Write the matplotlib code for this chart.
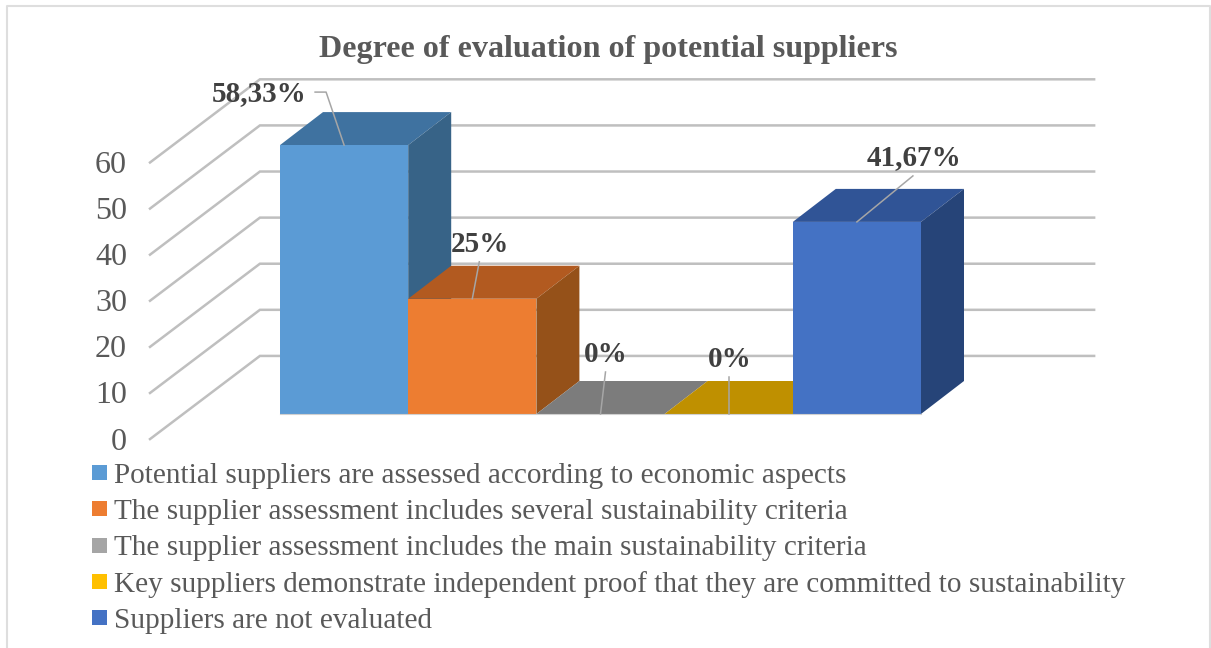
import matplotlib
matplotlib.use('Agg')
import matplotlib.pyplot as plt
from matplotlib.lines import Line2D
from matplotlib.patches import Polygon

# Chart data
title = 'Degree of evaluation of potential suppliers'
categories = ['Potential suppliers are assessed according to economic aspects',
              'The supplier assessment includes several sustainability criteria',
              'The supplier assessment includes the main sustainability criteria',
              'Key suppliers demonstrate independent proof that they are committed to sustainability',
              'Suppliers are not evaluated']
values = [58.33, 25, 0, 0, 41.67]
value_labels = ['58,33%', '25%', '0%', '0%', '41,67%']
y_ticks = [0, 10, 20, 30, 40, 50, 60]

# Colours of each bar
front_colors = ['#5B9BD5', '#ED7D31', '#A5A5A5', '#FFC000', '#4472C4']
top_colors = ['#3F72A0', '#B25A20', '#7C7C7C', '#BF9000', '#305496']
side_colors = ['#376387', '#955119', '#636363', '#997300', '#264478']

# Pixel layout of the oblique projection
W, H = 1211, 648
BAR_W = 128.2
UNIT = 4.61
X0, Y0 = 280.0, 414.0
DEPTH_X, DEPTH_Y = 43.0 / BAR_W, 33.0 / UNIT
WALL_FRONT, WALL_BACK = -0.76, 1.76
FLOOR_LEFT, FLOOR_LEFT_BACK, FLOOR_RIGHT = -0.759, -0.747, 5.76

# Label centre and leader start, in pixels from the bar's top centre
label_offsets = [(-85, -52), (8, -54), (5, -60), (1, -55), (57, -64)]
leader_offsets = [[(-29, -53), (-18, -53), (0, 0)],
                  [(7, -37), (0, 0)],
                  [(5, -42), (0, 0)],
                  [(0, -37), (0, 0)],
                  [(56, -46), (0, 0)]]

plt.rcParams['font.family'] = ['Liberation Serif', 'DejaVu Serif']

fig = plt.figure(figsize=(W / 100, H / 100), dpi=100, facecolor='white')
ax = fig.add_axes([0, 0, 1, 1])
ax.set_xlim(-X0 / BAR_W, (W - X0) / BAR_W)
ax.set_ylim(-(H - Y0) / UNIT, Y0 / UNIT)
ax.axis('off')


def project(cat, val, depth):
    return cat + depth * DEPTH_X, val + depth * DEPTH_Y


def shift(x, y, dx, dy):
    # offset in pixels, y going down as in the image
    return x + dx / BAR_W, y - dy / UNIT


# Outer frame of the chart area
ax.plot([(7 - X0) / BAR_W, (7 - X0) / BAR_W, (1210 - X0) / BAR_W, (1210 - X0) / BAR_W],
        [-(H - Y0) / UNIT, (Y0 - 6) / UNIT, (Y0 - 6) / UNIT, -(H - Y0) / UNIT],
        color='#DEDEDE', lw=1.5, zorder=1)

# Gridlines on the left wall and the back wall
for t in y_ticks:
    p0 = project(FLOOR_LEFT, t, WALL_FRONT)
    p1 = project(FLOOR_LEFT_BACK, t, WALL_BACK)
    p2 = project(FLOOR_RIGHT, t, WALL_BACK)
    ax.plot([p0[0], p1[0], p2[0]], [p0[1], p1[1], p2[1]], color='#BFBFBF', lw=1.8,
            solid_joinstyle='miter', zorder=2)
    lx, ly = shift(p0[0], p0[1], -23, 3)
    ax.text(lx, ly, str(t), ha='right', va='center', fontsize=23, color='#595959', zorder=3)

# Bars, drawn left to right so each one covers the one before
for i, v in enumerate(values):
    z = 4 + i
    front = [project(i, 0, 0), project(i + 1, 0, 0), project(i + 1, v, 0), project(i, v, 0)]
    top = [project(i, v, 0), project(i + 1, v, 0), project(i + 1, v, 1), project(i, v, 1)]
    side = [project(i + 1, 0, 0), project(i + 1, 0, 1), project(i + 1, v, 1), project(i + 1, v, 0)]
    ax.add_patch(Polygon(top, closed=True, facecolor=top_colors[i], edgecolor='none', zorder=z))
    if v > 0:
        ax.add_patch(Polygon(side, closed=True, facecolor=side_colors[i], edgecolor='none', zorder=z))
        ax.add_patch(Polygon(front, closed=True, facecolor=front_colors[i], edgecolor='none', zorder=z))

# Light floor edge under the bars
fx0, fy0 = project(0, 0, 0)
fx1, fy1 = project(len(values), 0, 0)
ax.plot([fx0, fx1], [fy0, fy1], color='#D0D0D0', lw=0.8, zorder=15)

# Value labels with leader lines
for i, v in enumerate(values):
    ax_x, ax_y = project(i + 0.5, v, 0)
    pts = [shift(ax_x, ax_y, dx, dy) for dx, dy in leader_offsets[i]]
    ax.plot([p[0] for p in pts], [p[1] for p in pts], color='#A6A6A6', lw=1.1, zorder=20)
    lx, ly = shift(ax_x, ax_y, *label_offsets[i])
    ax.text(lx, ly, value_labels[i], ha='center', va='center', fontsize=21, fontweight='bold',
            color='#404040', zorder=21)

# Title
ax.text((608 - X0) / BAR_W, (Y0 - 49) / UNIT, title, ha='center', va='center', fontsize=23.1,
        fontweight='bold', color='#595959')

# Legend
handles = [Line2D([], [], linestyle='none', marker='s', markersize=10.8, color=c, markeredgewidth=0)
           for c in front_colors]
leg = ax.legend(handles, categories, loc='upper left', frameon=False, fontsize=21.1,
                labelcolor='#595959', numpoints=1, handlelength=0.7, handletextpad=0.16,
                labelspacing=0.33, borderpad=0, borderaxespad=0,
                bbox_to_anchor=(89 / W, 1 - 462 / H))

fig.savefig('out.png', dpi=100)
